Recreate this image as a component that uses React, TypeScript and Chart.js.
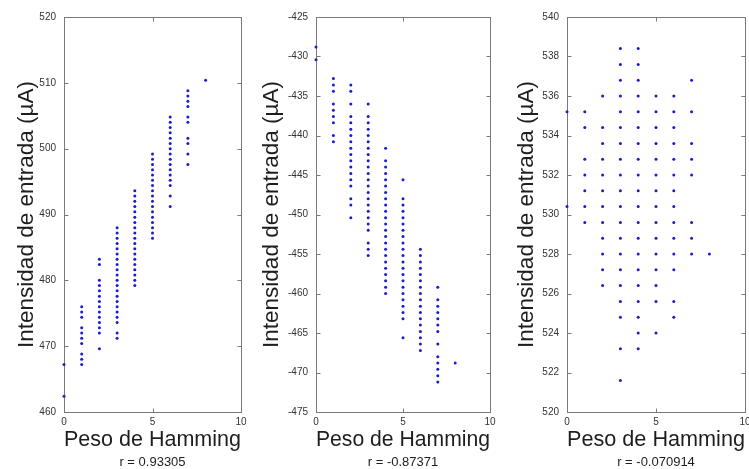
import React, { useEffect, useRef } from "react";
import { Chart, registerables } from "chart.js";

Chart.register(...registerables);

// Hamming weight of each column (index of the column arrays below)
const pesos: number[] = [0, 1, 2, 3, 4, 5, 6, 7, 8];

// Panel 1 : input current (µA) for each Hamming weight
const intensidadA: number[][] = [
  [467.2, 462.4],
  [476.0, 475.2, 474.4, 472.8, 472.0, 471.2, 470.4, 468.8, 468.0, 467.2],
  [483.2, 482.4, 480.0, 479.2, 478.4, 477.6, 476.8, 476.0, 475.2, 474.4, 473.6, 472.8, 472.0, 469.6],
  [488.0, 487.2, 486.4, 485.6, 484.8, 484.0, 483.2, 482.4, 481.6, 480.8, 480.0, 479.2, 478.4, 477.6, 476.8, 476.0, 475.2, 474.4, 473.6, 472.0, 471.2],
  [493.6, 492.8, 492.0, 491.2, 490.4, 489.6, 488.8, 488.0, 487.2, 486.4, 485.6, 484.8, 484.0, 483.2, 482.4, 481.6, 480.8, 480.0, 479.2],
  [499.2, 498.4, 497.6, 496.8, 496.0, 495.2, 494.4, 493.6, 492.8, 492.0, 491.2, 490.4, 489.6, 488.8, 488.0, 487.2, 486.4],
  [504.8, 504.0, 503.2, 502.4, 501.6, 500.8, 500.0, 499.2, 498.4, 497.6, 496.8, 496.0, 495.2, 494.4, 492.8, 491.2],
  [508.8, 508.0, 507.2, 506.4, 504.8, 504.0, 501.6, 500.8, 499.2, 497.6],
  [510.4],
];

// Panel 2
const intensidadB: number[][] = [
  [-428.8, -430.4],
  [-432.8, -433.6, -434.4, -436.0, -436.8, -437.6, -438.4, -440.0, -440.8],
  [-433.6, -434.4, -436.0, -437.6, -438.4, -439.2, -440.0, -440.8, -441.6, -442.4, -443.2, -444.0, -444.8, -445.6, -446.4, -448.0, -448.8, -450.4],
  [-436.0, -437.6, -438.4, -439.2, -440.0, -440.8, -441.6, -442.4, -443.2, -444.0, -444.8, -445.6, -446.4, -447.2, -448.0, -448.8, -449.6, -450.4, -451.2, -452.0, -453.6, -454.4, -455.2],
  [-441.6, -443.2, -444.0, -444.8, -445.6, -446.4, -447.2, -448.0, -448.8, -449.6, -450.4, -451.2, -452.0, -452.8, -453.6, -454.4, -455.2, -456.0, -456.8, -457.6, -458.4, -459.2, -460.0],
  [-445.6, -448.0, -448.8, -449.6, -450.4, -451.2, -452.0, -452.8, -453.6, -454.4, -455.2, -456.0, -456.8, -457.6, -458.4, -459.2, -460.0, -460.8, -461.6, -462.4, -463.2, -465.6],
  [-454.4, -455.2, -456.0, -456.8, -457.6, -458.4, -459.2, -460.0, -460.8, -461.6, -462.4, -463.2, -464.0, -464.8, -465.6, -466.4, -467.2],
  [-459.2, -460.8, -461.6, -462.4, -463.2, -464.0, -464.8, -466.4, -468.0, -468.8, -469.6, -470.4, -471.2],
  [-468.8],
];

// Panel 3
const intensidadC: number[][] = [
  [535.2, 530.4],
  [535.2, 534.4, 532.8, 532.0, 531.2, 530.4, 529.6],
  [536.0, 534.4, 533.6, 532.8, 532.0, 531.2, 530.4, 529.6, 528.8, 528.0, 527.2, 526.4],
  [538.4, 537.6, 536.8, 536.0, 535.2, 534.4, 533.6, 532.8, 532.0, 531.2, 530.4, 529.6, 528.8, 528.0, 527.2, 526.4, 525.6, 524.8, 523.2, 521.6],
  [538.4, 537.6, 536.8, 536.0, 535.2, 534.4, 533.6, 532.8, 532.0, 531.2, 530.4, 529.6, 528.8, 528.0, 527.2, 526.4, 525.6, 524.8, 524.0, 523.2],
  [536.0, 535.2, 534.4, 533.6, 532.8, 532.0, 531.2, 530.4, 529.6, 528.8, 528.0, 527.2, 526.4, 525.6, 524.0],
  [536.0, 535.2, 534.4, 533.6, 532.8, 532.0, 531.2, 530.4, 529.6, 528.8, 528.0, 527.2, 525.6, 524.8],
  [536.8, 535.2, 533.6, 532.8, 532.0, 529.6, 528.8, 528.0],
  [528.0],
];

// Tick labels
const xTicks: number[] = [0, 5, 10];
const yTicksA: number[] = [460, 470, 480, 490, 500, 510, 520];
const yTicksB: number[] = [-475, -470, -465, -460, -455, -450, -445, -440, -435, -430, -425];
const yTicksC: number[] = [520, 522, 524, 526, 528, 530, 532, 534, 536, 538, 540];

// Correlation captions
const correlaciones: string[] = ["r = 0.93305", "r = -0.87371", "r = -0.070914"];

const X_TITLE = "Peso de Hamming";
const Y_TITLE = "Intensidad de entrada (µA)";

const FONT = "'Liberation Sans', Arial, Helvetica, sans-serif";
const AXIS_COLOR = "#7a7a7a";
const TEXT_COLOR = "#1e1e1e";
const TICK_COLOR = "#333333";
const DOT_COLOR = "#1c1ccf";

const H = 469;

type PanelCfg = {
  data: number[][];
  yTicks: number[];
  caption: string;
  left: number;
  width: number;
  yAxisWidth: number;
  padRight: number;
  yTitlePad: number;
};

const panels: PanelCfg[] = [
  { data: intensidadA, yTicks: yTicksA, caption: correlaciones[0], left: 0, width: 256, yAxisWidth: 64, padRight: 15, yTitlePad: 16 },
  { data: intensidadB, yTicks: yTicksB, caption: correlaciones[1], left: 256, width: 250, yAxisWidth: 60, padRight: 16, yTitlePad: 5 },
  { data: intensidadC, yTicks: yTicksC, caption: correlaciones[2], left: 506, width: 256, yAxisWidth: 61, padRight: 17, yTitlePad: 10 },
];

const boxPlugin = {
  id: "matlabBox",
  beforeDatasetsDraw(chart: any) {
    const { ctx, chartArea: a, scales } = chart;
    const L = 4;
    ctx.save();
    ctx.strokeStyle = AXIS_COLOR;
    ctx.lineWidth = 1;
    const l = Math.round(a.left) + 0.5;
    const t = Math.round(a.top) + 0.5;
    const r = Math.round(a.right) + 0.5;
    const b = Math.round(a.bottom) + 0.5;
    ctx.strokeRect(l, t, r - l, b - t);
    ctx.beginPath();
    scales.x.ticks.forEach((tk: any) => {
      const px = Math.round(scales.x.getPixelForValue(tk.value)) + 0.5;
      ctx.moveTo(px, b);
      ctx.lineTo(px, b - L);
      ctx.moveTo(px, t);
      ctx.lineTo(px, t + L);
    });
    scales.y.ticks.forEach((tk: any) => {
      const py = Math.round(scales.y.getPixelForValue(tk.value)) + 0.5;
      ctx.moveTo(l, py);
      ctx.lineTo(l + L, py);
      ctx.moveTo(r, py);
      ctx.lineTo(r - L, py);
    });
    ctx.stroke();
    ctx.restore();
  },
};

function Panel({ cfg }: { cfg: PanelCfg }) {
  const ref = useRef<HTMLCanvasElement>(null);
  useEffect(() => {
    if (!ref.current) return;
    const points = cfg.data.flatMap((col, i) => col.map((v) => ({ x: pesos[i], y: v })));
    const yMin = Math.min(...cfg.yTicks);
    const yMax = Math.max(...cfg.yTicks);
    const chart = new Chart(ref.current, {
      type: "scatter",
      data: {
        datasets: [
          {
            data: points,
            backgroundColor: DOT_COLOR,
            borderColor: DOT_COLOR,
            borderWidth: 0,
            pointRadius: 1.5,
            pointHoverRadius: 1.5,
            clip: false as any,
          },
        ],
      },
      options: {
        animation: false,
        responsive: false,
        maintainAspectRatio: false,
        events: [],
        layout: { padding: { left: 0, right: cfg.padRight, top: 17, bottom: 0 } },
        plugins: {
          legend: { display: false },
          tooltip: { enabled: false },
          title: {
            display: true,
            position: "bottom",
            fullSize: false,
            text: cfg.caption,
            color: TEXT_COLOR,
            font: { family: FONT, size: 13, weight: "normal", lineHeight: 1 },
            padding: { top: 0, bottom: 0 },
          },
        },
        scales: {
          x: {
            type: "linear",
            position: "bottom",
            min: 0,
            max: 10,
            afterBuildTicks: (s: any) => {
              s.ticks = xTicks.map((v) => ({ value: v }));
            },
            afterFit: (s: any) => {
              s.height = 44;
            },
            grid: { display: false, drawTicks: false },
            border: { display: false },
            ticks: {
              autoSkip: false,
              maxRotation: 0,
              padding: 4,
              color: TICK_COLOR,
              font: { family: FONT, size: 10 },
            },
            title: {
              display: true,
              text: X_TITLE,
              color: TEXT_COLOR,
              font: { family: FONT, size: 22, lineHeight: 1 },
              padding: { top: 0, bottom: 5 },
            },
          },
          y: {
            type: "linear",
            position: "left",
            min: yMin,
            max: yMax,
            afterBuildTicks: (s: any) => {
              s.ticks = cfg.yTicks.map((v) => ({ value: v }));
            },
            afterFit: (s: any) => {
              s.width = cfg.yAxisWidth;
            },
            grid: { display: false, drawTicks: false },
            border: { display: false },
            ticks: {
              autoSkip: false,
              padding: 8,
              color: TICK_COLOR,
              font: { family: FONT, size: 10 },
            },
            title: {
              display: true,
              text: Y_TITLE,
              color: TEXT_COLOR,
              font: { family: FONT, size: 22.5, lineHeight: 1 },
              padding: { top: cfg.yTitlePad, bottom: 0 },
            },
          },
        },
      },
      plugins: [boxPlugin],
    } as any);
    return () => chart.destroy();
  }, [cfg]);
  return (
    <canvas
      ref={ref}
      width={cfg.width}
      height={H}
      style={{ position: "absolute", left: cfg.left, top: 0, width: cfg.width, height: H, display: "block" }}
    />
  );
}

export default function App() {
  return (
    <div
      style={{
        position: "fixed",
        left: 0,
        top: 0,
        width: 749,
        height: H,
        overflow: "hidden",
        background: "#ffffff",
      }}
    >
      {panels.map((p, i) => (
        <Panel key={i} cfg={p} />
      ))}
    </div>
  );
}
